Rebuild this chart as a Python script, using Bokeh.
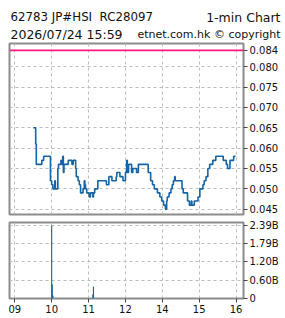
from bokeh.plotting import figure
from bokeh.layouts import column
from bokeh.models import (Range1d, FixedTicker, NumeralTickFormatter, CustomJSTickFormatter,
                          Span)
from bokeh.core.properties import value
from bokeh.embed import file_html
from bokeh.resources import INLINE

# ---------------- data ----------------
title_left = "62783 JP#HSI\u00a0 RC28097"
title_right = "1-min Chart"
stamp = "2026/07/24 15:59"
source_note = "etnet.com.hk © copyright"

times = ["09:30", "09:34", "09:35", "09:44", "09:47", "09:58", "10:00", "10:02", "10:05", "10:06",
         "10:10", "10:11", "10:15", "10:16", "10:18", "10:19", "10:20", "10:27", "10:33", "10:35",
         "10:39", "10:40", "10:43", "10:45", "10:47", "10:51", "10:53", "10:54", "10:55", "10:57",
         "11:01", "11:03", "11:07", "11:08", "11:10", "11:15", "11:29", "11:33", "11:38", "11:45",
         "11:46", "11:51", "11:56", "13:00", "13:02", "13:03", "13:05", "13:10", "13:12", "13:18",
         "13:21", "13:37", "13:41", "13:44", "13:47", "13:52", "13:56", "13:59", "14:02", "14:05",
         "14:07", "14:08", "14:11", "14:14", "14:16", "14:18", "14:20", "14:21", "14:32", "14:34",
         "14:41", "14:44", "14:47", "14:48", "14:52", "14:58", "15:01", "15:06", "15:08", "15:11",
         "15:14", "15:17", "15:22", "15:27", "15:39", "15:44", "15:46", "15:50", "15:56", "15:59"]
prices = [0.065, 0.061, 0.056, 0.057, 0.058, 0.052, 0.051, 0.050, 0.052, 0.050,
          0.055, 0.056, 0.057, 0.056, 0.058, 0.054, 0.056, 0.057, 0.056, 0.057,
          0.055, 0.053, 0.052, 0.051, 0.049, 0.050, 0.052, 0.051, 0.050, 0.049,
          0.048, 0.049, 0.048, 0.049, 0.050, 0.052, 0.051, 0.053, 0.052, 0.053,
          0.054, 0.053, 0.052, 0.054, 0.057, 0.054, 0.056, 0.054, 0.055, 0.054,
          0.056, 0.054, 0.052, 0.051, 0.050, 0.049, 0.048, 0.047, 0.046, 0.045,
          0.047, 0.048, 0.049, 0.050, 0.051, 0.052, 0.053, 0.052, 0.050, 0.049,
          0.047, 0.046, 0.047, 0.046, 0.047, 0.048, 0.050, 0.051, 0.052, 0.053,
          0.055, 0.056, 0.057, 0.058, 0.057, 0.056, 0.055, 0.057, 0.058, 0.058]

ref_price = 0.084

vol_times = ["10:00", "10:01", "10:02", "11:07", "11:08"]
volumes = [2.39e9, 0.46e9, 0.10e9, 0.14e9, 0.39e9]

hour_ticks = ["09:00", "10:00", "11:00", "12:00", "14:00", "15:00", "16:00"]
hour_labels = ["09", "10", "11", "12", "14", "15", "16"]

price_ticks = [0.045, 0.050, 0.055, 0.060, 0.065, 0.070, 0.075, 0.080, 0.084]


def tmin(t):
    h, m = map(int, t.split(":"))
    total = h * 60 + m
    if total <= 720:
        return total - 540
    return total - 780 + 180


# ---------------- styles ----------------
FONT = "DejaVu Sans"
LINE = "#1464a5"
RED = "#ff1a80"
FRAME = "#8c8c8c"
GRID = "#bdbdbd"
W = 285

xr = Range1d(-8.6, 372)

# ---------------- header ----------------
hdr = figure(width=W, height=40, x_range=Range1d(0, W), y_range=Range1d(0, 40),
             toolbar_location=None, output_backend="svg",
             x_axis_location=None, y_axis_location=None, min_border=0,
             min_border_left=0, min_border_right=0, min_border_top=0, min_border_bottom=0)
hdr.outline_line_color = None
hdr.grid.visible = False
hdr.background_fill_color = None
hdr.border_fill_color = None
header_items = [(title_left, 10, 23.5, "left", "11.8px"),
                (title_right, 280, 23.5, "right", "12.5px"),
                (stamp, 10, 6.5, "left", "12.5px"),
                (source_note, 280, 6.5, "right", "11px")]
for txt, x, y, al, fs in header_items:
    hdr.text(x=[x], y=[y], text=[txt], text_align=al, text_baseline="alphabetic",
             text_font=value(FONT), text_font_size=fs, text_color="#111111")

# ---------------- price panel ----------------
p1 = figure(width=W, height=178, x_range=xr, y_range=Range1d(0.0437, 0.0857),
            toolbar_location=None, output_backend="svg",
            x_axis_location=None, y_axis_location="right",
            min_border_left=9, min_border_right=42, min_border_top=3, min_border_bottom=4)
p1.step([tmin(t) for t in times], prices, mode="after", line_color=LINE, line_width=1.6)
p1.add_layout(Span(location=ref_price, dimension="width", line_color=RED, line_width=1.6))

p1.yaxis.ticker = FixedTicker(ticks=price_ticks)
p1.yaxis.formatter = NumeralTickFormatter(format="0.000")
p1.xgrid.ticker = FixedTicker(ticks=[tmin(t) for t in hour_ticks])

# ---------------- volume panel ----------------
vmax = max(volumes)
p2 = figure(width=W, height=100, x_range=xr, y_range=Range1d(0, vmax * 1.04),
            toolbar_location=None, output_backend="svg",
            x_axis_location="below", y_axis_location="right",
            min_border_left=9, min_border_right=42, min_border_top=4, min_border_bottom=20)
p2.vbar(x=[tmin(t) for t in vol_times], top=volumes, width=1.8, bottom=0,
        fill_color=LINE, line_color=None)
p2.yaxis.ticker = FixedTicker(ticks=[vmax * i / 4 for i in range(5)])
p2.yaxis.formatter = CustomJSTickFormatter(
    code="return tick == 0 ? '0' : (tick/1e9).toFixed(2) + 'B';")
p2.xaxis.ticker = FixedTicker(ticks=[tmin(t) for t in hour_ticks])
p2.xaxis.major_label_overrides = {tmin(t): l for t, l in zip(hour_ticks, hour_labels)}

for p in (p1, p2):
    p.outline_line_color = FRAME
    p.outline_line_width = 2
    p.background_fill_color = "white"
    p.border_fill_color = "white"
    p.grid.grid_line_color = GRID
    p.grid.grid_line_dash = "3 3"
    p.grid.grid_line_width = 1
    for ax in p.axis:
        ax.axis_line_color = None
        ax.major_tick_line_color = "#444444"
        ax.major_tick_out = 4
        ax.major_tick_in = 0
        ax.minor_tick_line_color = None
        ax.major_label_text_font = FONT
        ax.major_label_text_font_size = "10px"
        ax.major_label_text_color = "#111111"
        ax.major_label_standoff = 2

layout = column(hdr, column(p1, p2, spacing=0), spacing=0)

open("out.html", "w").write(file_html(layout, INLINE))
